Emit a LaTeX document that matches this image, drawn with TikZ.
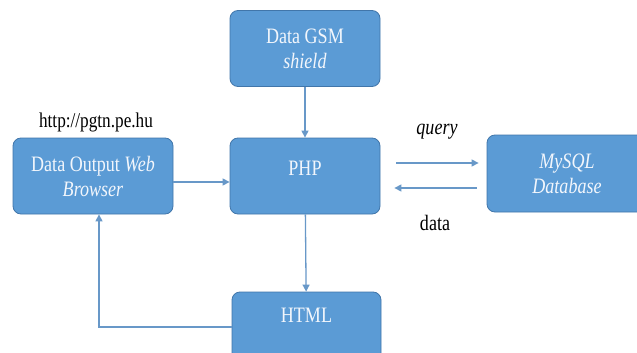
\documentclass[tikz,border=0pt]{standalone}
\usepackage{fontspec}
\setmainfont[FakeStretch=0.82]{Liberation Serif}
\usepackage{tikz}
\usetikzlibrary{arrows.meta,positioning,calc}
\definecolor{boxblue}{RGB}{91, 155, 213}
\definecolor{boxborder}{RGB}{65, 118, 170}
\definecolor{boxtext}{RGB}{242, 246, 252}
\definecolor{linkblue}{RGB}{104, 152, 200}
\newcommand{\blockfont}{\fontsize{22}{25}\selectfont}
\newcommand{\lblfont}{\fontsize{22}{25}\selectfont}
\newcommand{\urlfont}{\fontsize{21}{24}\selectfont}

\begin{document}
\begin{tikzpicture}[x=1pt, y=-1pt,
  block/.style={draw=boxborder, fill=boxblue, rounded corners=8pt, line width=0.8pt, text=boxtext, font=\blockfont, align=center, minimum width=150pt, minimum height=76pt, inner sep=2pt},
  conn/.style={draw=linkblue, line width=1.3pt, -{Triangle[length=7pt, width=7pt]}},
  lbl/.style={font=\lblfont, text=black, inner sep=0pt}
]
\fill[white] (0,0) rectangle (637,353);
\useasboundingbox (0,0) rectangle (637,353);

% Blocks
\node[block] (gsm) at (305, 48.5) {Data GSM\\\textit{shield}};
\node[block, text depth=16pt] (php) at (305, 176) {PHP};
\node[block, minimum width=160pt] (browser) at (93, 176) {Data Output \textit{Web}\\\textit{Browser}};
\node[block, minimum width=160pt, minimum height=77pt] (mysql) at (567, 173.5) {\textit{MySQL}\\\textit{Database}};
\node[block, minimum width=149pt, text depth=30pt] (html) at (306.5, 330) {HTML};

% Labels
\node[lbl, font=\urlfont] (url) at (96, 122) {http://pgtn.pe.hu};
\node[lbl] (query) at (437, 132) {\textit{query}};
\node[lbl] (data) at (435, 223) {data};

% Connectors
\draw[conn] (gsm) -- (php);
\draw[conn] ([yshift=-6pt]browser.east) -- ([yshift=-6pt]php.west);
\draw[conn] ([shift={(16pt,13pt)}]php.east) -- ([shift={(-8pt,10.5pt)}]mysql.west);
\draw[conn] ([shift={(-10pt,-14.5pt)}]mysql.west) -- ([shift={(14pt,-12pt)}]php.east);
\draw[conn] (php) -- (html);
\draw[conn] ([yshift=3pt]html.west) -| ([xshift=6pt]browser.south);

\end{tikzpicture}
\end{document}
